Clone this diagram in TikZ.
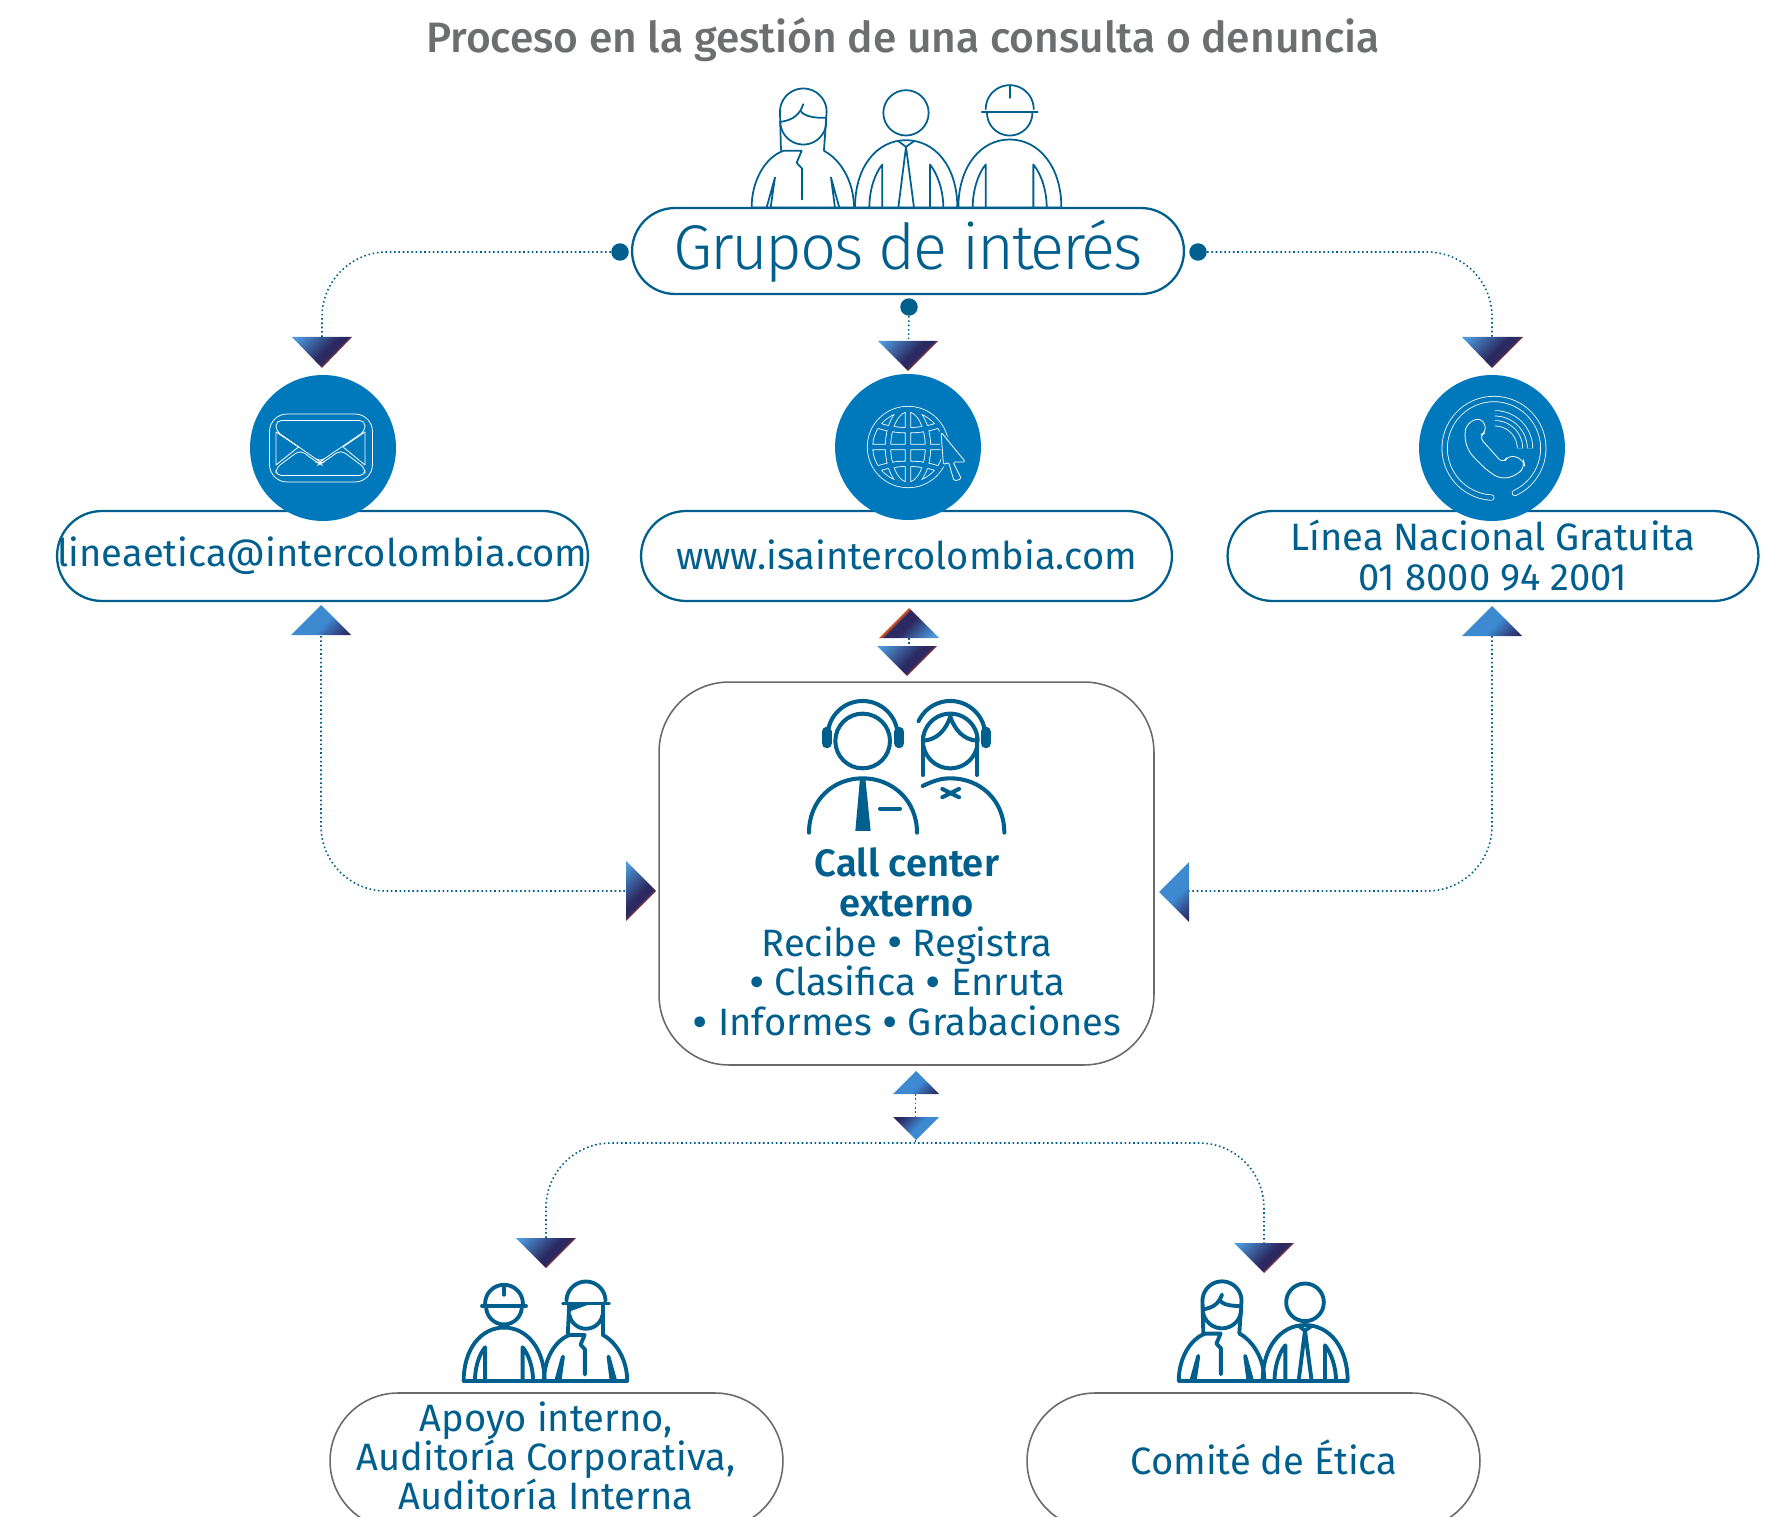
\documentclass[tikz,border=0pt]{standalone}
\usepackage{fontspec}
\setmainfont{Fira Sans}[BoldFont={Fira Sans SemiBold}]
\newfontfamily\titlefont{Fira Sans Medium}
\newfontfamily\grupofont{Fira Sans Light}[LetterSpace=-3.6]
\definecolor{tbBlue}{HTML}{005F8C}
\definecolor{circBlue}{HTML}{0079BC}
\definecolor{grayLine}{HTML}{6A6A6A}
\definecolor{titleGray}{HTML}{6D6E70}
\pgfdeclarehorizontalshading{triRed}{100bp}{rgb(0bp)=(0.30,0.60,0.86);rgb(26bp)=(0.30,0.60,0.86);rgb(51bp)=(0.17,0.16,0.38);rgb(56.5bp)=(0.17,0.16,0.38);rgb(58.3bp)=(0.55,0.20,0.20);rgb(100bp)=(0.55,0.20,0.20)}
\pgfdeclarehorizontalshading{triBlue}{100bp}{rgb(0bp)=(0.24,0.54,0.82);rgb(54bp)=(0.24,0.54,0.82);rgb(66bp)=(0.20,0.30,0.55);rgb(75bp)=(0.16,0.15,0.37);rgb(100bp)=(0.16,0.15,0.37)}
\pgfdeclarehorizontalshading{triRev}{100bp}{rgb(0bp)=(0.16,0.15,0.37);rgb(29bp)=(0.16,0.15,0.37);rgb(38bp)=(0.20,0.30,0.55);rgb(50bp)=(0.24,0.54,0.82);rgb(100bp)=(0.24,0.54,0.82)}
\pgfdeclarehorizontalshading{triRevRed}{100bp}{rgb(0bp)=(0.80,0.33,0.15);rgb(41.8bp)=(0.80,0.33,0.15);rgb(43.5bp)=(0.17,0.16,0.38);rgb(51bp)=(0.17,0.16,0.38);rgb(72bp)=(0.30,0.60,0.86);rgb(100bp)=(0.30,0.60,0.86)}
\newcommand{\parc}[5]{plot[domain=#4:#5,samples=48,smooth] ({#1+#2*cos(\x)},{#3+#2*sin(\x)})}
\newcommand{\shtri}[7]{\begin{scope}\clip #1 -- #2 -- #3 -- cycle;\shade[shading=#4,shading angle=-45] (#5-#7,#6-#7) rectangle (#5+#7,#6+#7);\end{scope}}
\newcommand{\womanbodydraw}{%
    \draw[fig] (-155,0) .. controls (-155,-80) and (-115,-150) .. (-60,-170) -- (-5,-170) -- (-20,-134) -- (-4,-117) -- (-4,-24);
    \draw[fig] (62,-170) .. controls (110,-145) and (152,-80) .. (152,0) -- (-155,0);
    \draw[fig] (-98,0) -- (-85,-90) -- (-110,0);
    \draw[fig] (95,0) -- (83,-90) -- (108,0);
}
\newcommand{\bul}{\raisebox{-1.6pt}{\fontsize{27}{22}\selectfont •}}
\tikzset{
  x=0.02cm,y=-0.02cm,
  pill/.style={draw=tbBlue,line width=1.3pt,rectangle,inner sep=0pt,align=center,text=tbBlue},
  graybox/.style={draw=grayLine,line width=.9pt,rectangle,inner sep=0pt,align=center,text=tbBlue},
  bluecirc/.style={circle,fill=circBlue,minimum size=2.92cm,inner sep=0pt},
  bigdot/.style={circle,fill=tbBlue,minimum size=.35cm,inner sep=0pt},
  conn/.style={draw=tbBlue,line width=.9pt,dash pattern=on .9pt off 1.55pt,rounded corners=1.3cm},
  fig/.style={draw=tbBlue,line cap=round,line join=round},
  thinw/.style={draw=white,line width=.45pt,line join=round},
  strip/.style={draw=white,line width=.45pt,double=circBlue,double distance=2.6pt},
  pics/manfig/.style={code={
    \draw[fig] (0,-284) circle[radius=68];
    \draw[fig] (-153,0) .. controls (-153,-122) and (-88,-202) .. (0,-202) .. controls (88,-202) and (154,-122) .. (154,0) -- cycle;
    \draw[fig] (-23,-199) -- (0,-182) -- (24,-199);
    \draw[fig] (-23,0) -- (0,-182) -- (24,0);
    \draw[fig] (-71,0) -- (-71,-129) .. controls (-95,-100) and (-110,-50) .. (-110,0);
    \draw[fig] (72,0) -- (72,-129) .. controls (95,-100) and (112,-50) .. (112,0);
  }},
  pics/workerfig/.style={code={
    \draw[fig] \parc{0}{68}{-284}{0}{180};
    \draw[fig] \parc{0}{72}{-295}{180}{360};
    \draw[fig] (-84,-286) -- (84,-286);
    \draw[fig] (0,-367) -- (0,-329);
    \draw[fig] (-154,0) .. controls (-154,-122) and (-88,-204) .. (0,-204) .. controls (88,-204) and (155,-122) .. (155,0) -- cycle;
    \draw[fig] (-72,0) -- (-72,-129) .. controls (-96,-100) and (-111,-50) .. (-111,0);
    \draw[fig] (71,0) -- (71,-129) .. controls (95,-100) and (111,-50) .. (111,0);
  }},
  pics/womanfig/.style={code={
    \womanbodydraw
    \draw[fig] \parc{0}{70}{-287}{180}{360};
    \draw[fig] \parc{0}{69}{-258}{0}{180};
    \draw[fig] (-70,-287) -- (-67,-172);
    \draw[fig] (70,-287) -- (62,-172);
    \draw[fig] (-68,-257) .. controls (-30,-262) and (-10,-280) .. (0,-310);
    \draw[fig] (-8,-290) .. controls (0,-275) and (30,-268) .. (68,-269);
  }},
  pics/womanworker/.style={code={
    \womanbodydraw
    \draw[fig] \parc{0}{72}{-295}{180}{360};
    \draw[fig] \parc{0}{62}{-255}{10}{170};
    \draw[fig] (-84,-286) -- (84,-286);
    \draw[fig] (-62,-286) -- (-67,-172);
    \draw[fig] (62,-286) -- (62,-172);
    \fill[tbBlue] (-58,-286) -- (20,-286) .. controls (-10,-275) and (-35,-265) .. (-58,-258) -- cycle;
  }},
}
\begin{document}
\begin{tikzpicture}[x=0.02cm,y=-0.02cm]
\useasboundingbox (0,0) rectangle (1779,1517);
\clip (0,0) rectangle (1779,1517);

% title
\node[text=titleGray,font=\titlefont\fontsize{24.2}{28}\selectfont] (title) at (903,40) {Proceso en la gestión de una consulta o denuncia};

% coordinates of connector ends
\coordinate (tLt) at (322,337); \coordinate (tMt) at (908.5,341); \coordinate (tRt) at (1492,337);
\coordinate (uLb) at (321,636); \coordinate (uRb) at (1492,636);
\coordinate (sLt) at (626,891); \coordinate (sRt) at (1189,891);
\coordinate (mUb) at (909,638); \coordinate (mDt) at (909,646);
\coordinate (bUb) at (915.6,1094); \coordinate (bDt) at (915.6,1117); \coordinate (bDb) at (915.6,1140);
\coordinate (bJ) at (915.6,1143);
\coordinate (lLt) at (546,1238); \coordinate (lRt) at (1264,1243);

% upper figures
\begin{scope}[line width=1pt]
\pic[scale=.3333] at (803.3,207.5) {womanfig};
\pic[scale=.3333] at (906,207.5) {manfig};
\pic[scale=.3333] at (1009.7,207.5) {workerfig};
\end{scope}

% boxes
\node[pill,minimum width=11.04cm,minimum height=1.72cm,rounded corners=.86cm,font=\grupofont\fontsize{36}{38}\selectfont] (grupos) at (908,251) {\raisebox{-2pt}{Grupos de interés}};
\node[bigdot] (dL) at (620,252) {};
\node[bigdot] (dR) at (1198,252) {};
\node[bigdot] (dM) at (909,307) {};

\def\boxfont{\fontsize{21.7}{22.6}\selectfont}
\node[pill,minimum width=10.62cm,minimum height=1.8cm,rounded corners=.9cm,font=\boxfont] (bL) at (322.5,556) {lineaetica@intercolombia.com};
\node[pill,minimum width=10.62cm,minimum height=1.8cm,rounded corners=.9cm,font=\boxfont] (bM) at (906.5,556) {\raisebox{1.2pt}{www.isaintercolombia.com}};
\node[pill,minimum width=10.62cm,minimum height=1.8cm,rounded corners=.9cm,font=\boxfont] (bR) at (1493,556) {Línea Nacional Gratuita\\01 8000 94 2001};

\node[bluecirc] (cL) at (323,448) {};
\node[bluecirc] (cM) at (908,447) {};
\node[bluecirc] (cR) at (1492,448) {};

% envelope icon
\draw[thinw,rounded corners=10] (269.5,414) rectangle (372.5,482);
\draw[thinw,rounded corners=3] (276,420.5) -- (365,420.5) -- (365,431) -- (324,459) -- (320,462) -- (316,459) -- (276,431) -- cycle;
\draw[thinw] (276,432) -- (298.5,447) -- (276,465) -- cycle;
\draw[thinw] (365,432) -- (343,447) -- (365,465) -- cycle;
\draw[thinw,rounded corners=3] (300,450) -- (276,468) -- (276,475.5) -- (365,475.5) -- (365,468) -- (341,450) -- (322,463) -- (320,464) -- (318,463) -- cycle;

% globe icon
\draw[strip] (908,447) circle[radius=38]
  (908,409) -- (908,485) (870,447) -- (946,447)
  (908,447) ellipse[x radius=20,y radius=38]
  (877,425) .. controls (895,432) and (921,432) .. (939,425)
  (877,469) .. controls (895,462) and (921,462) .. (939,469);
\draw[fill=circBlue,draw=circBlue,line width=2pt,line join=round] (941,432) -- (965.5,462) -- (953,462) -- (961.5,479) -- (954,481) -- (948.5,462) -- (943.5,465) -- cycle;
\draw[thinw,fill=circBlue,rounded corners=1] (941,432) -- (965.5,462) -- (953,462) -- (961.5,479) -- (954,481) -- (948.5,462) -- (943.5,465) -- cycle;

% telephone icon
\begin{scope}[shift={(1380,320)},scale=.3333]
\draw[strip,line cap=round] \parc{342}{148}{385}{93}{425};
\draw[thinw,rounded corners=4] (252,345) -- (262,308) -- (305,292) -- (322,335) -- (295,348) -- (370,432) -- (385,404) -- (430,418) -- (435,440) -- (410,466) -- (365,478) -- (325,455) -- (265,395) -- cycle;
\draw[strip] \parc{345}{105}{385}{270}{360};
\draw[strip] \parc{345}{75}{385}{270}{360};
\end{scope}

% call centre box
\node[graybox,minimum width=9.9cm,minimum height=7.66cm,rounded corners=1.4cm] (cc) at (906.5,873.5) {};
\begin{scope}[shift={(780,600)},scale=.3333,line width=2.3pt]
\draw[fig] (248,423) circle[radius=82];
\draw[fig] \parc{248}{105}{408}{190}{350};
\draw[fig,line width=5.7pt] (140,395) -- (140,430);
\draw[fig,line width=5.7pt] (358,395) -- (358,430);
\draw[fig] (87,698) .. controls (87,600) and (160,535) .. (248,535) .. controls (336,535) and (411,600) .. (411,698);
\fill[tbBlue] (240,535) -- (256,535) -- (272,693) -- (226,693) -- cycle;
\draw[fig] (300,626) -- (360,626);
\draw[fig] \parc{511}{82}{423}{10}{170};
\draw[fig] \parc{511}{82}{423}{180}{360};
\draw[fig] (430,410) -- (430,525);
\draw[fig] (591,410) -- (591,525);
\draw[fig] (430,422) .. controls (470,420) and (498,390) .. (511,350) .. controls (524,390) and (552,420) .. (591,422);
\draw[fig] \parc{511}{105}{408}{205}{350};
\draw[fig,line width=5.7pt] (617,395) -- (617,430);
\draw[fig] (428,558) .. controls (470,538) and (490,535) .. (511,535) .. controls (600,535) and (673,600) .. (673,698);
\draw[fig] (487,567) -- (537,592);
\draw[fig] (487,592) -- (537,567);
\end{scope}
\node[text=tbBlue,align=center,font=\boxfont,inner sep=0pt] (ccText) at (907,943) {\textbf{Call center}\\\textbf{externo}\\Recibe \bul{} Registra\\\bul{} Clasifica \bul{} Enruta\\\bul{} Informes \bul{} Grabaciones};

% lower figures
\begin{scope}[line width=2.2pt]
\pic[scale=.262] at (504,1381) {workerfig};
\pic[scale=.271] at (586,1381) {womanworker};
\pic[scale=.279] at (1222,1381) {womanfig};
\pic[scale=.277] at (1305,1381) {manfig};
\end{scope}

% lower boxes
\node[graybox,minimum width=9.06cm,minimum height=2.72cm,rounded corners=1.36cm] (audit) at (556.5,1461) {};
\node[graybox,minimum width=9.06cm,minimum height=2.72cm,rounded corners=1.36cm] (comite) at (1253.5,1461) {};
\node[text=tbBlue,align=center,font=\fontsize{21.7}{22.2}\selectfont,inner sep=0pt] (auditText) at (546,1456) {Apoyo interno,\\Auditoría Corporativa,\\Auditoría Interna};
\node[text=tbBlue,font=\boxfont,inner sep=0pt] (comiteText) at (1264,1457) {Comité de Ética};

% triangles
\shtri{(292,337)}{(352,337)}{(322,368)}{triRed}{322}{352.5}{30}
\shtri{(878,341)}{(938,341)}{(908,371)}{triRed}{908}{356}{30}
\shtri{(1462,337)}{(1523,337)}{(1492,368)}{triRed}{1492.5}{352.5}{30.5}
\shtri{(291,635)}{(351,635)}{(321,605)}{triBlue}{321}{620}{30}
\shtri{(1462,636)}{(1522,636)}{(1492,606)}{triBlue}{1492}{621}{30}
\shtri{(879,638)}{(939,638)}{(909,608)}{triRevRed}{909}{623}{30}
\shtri{(877,646)}{(937,646)}{(907,676)}{triRed}{907}{661}{30}
\shtri{(626,861)}{(626,921)}{(656,891)}{triRed}{641}{891}{30}
\shtri{(1189,862)}{(1189,922)}{(1159,892)}{triBlue}{1174}{892}{30}
\shtri{(893,1094)}{(939,1094)}{(916,1071)}{triBlue}{916}{1082.5}{23}
\shtri{(893,1117)}{(939,1117)}{(916,1140)}{triRev}{916}{1128.5}{23}
\shtri{(516,1238)}{(576,1238)}{(546,1268)}{triRed}{546}{1253}{30}
\shtri{(1234,1243)}{(1294,1243)}{(1264,1273)}{triRed}{1264}{1258}{30}

% connectors
\draw[conn] (dL) -| (tLt);
\draw[conn] (dR) -| (tRt);
\draw[conn] (dM) -- (tMt);
\draw[conn] (uLb) |- (sLt);
\draw[conn] (uRb) |- (sRt);
\draw[conn] (mUb) -- (mDt);
\draw[conn] (bUb) -- (bDt);
\draw[conn] (bDb) -- (bJ);
\draw[conn] (lLt) |- (bJ) -| (lRt);
\end{tikzpicture}
\end{document}
